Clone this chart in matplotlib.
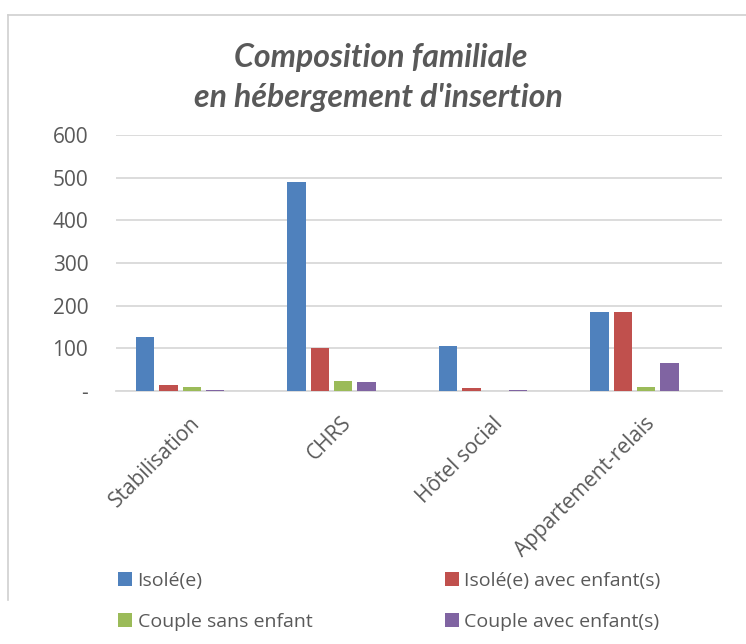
import matplotlib
matplotlib.use("Agg")
import matplotlib.pyplot as plt
import matplotlib.transforms as mtransforms
import numpy as np
from matplotlib.patches import Patch
from matplotlib.lines import Line2D

categories = ["Stabilisation", "CHRS", "Hôtel social", "Appartement-relais"]
series_names = ["Isolé(e)", "Isolé(e) avec enfant(s)", "Couple sans enfant", "Couple avec enfant(s)"]
isole = [127, 491, 105, 185]
isole_enfants = [14, 101, 7, 185]
couple_sans = [10, 23, 0, 10]
couple_avec = [2, 22, 2, 66]
yticks = [0, 100, 200, 300, 400, 500, 600]
ytick_labels = ["-", "100", "200", "300", "400", "500", "600"]
colors = ["#4f81bd", "#c0504d", "#9bbb59", "#8064a2"]

plt.rcParams['font.family'] = ['Open Sans', 'DejaVu Sans']
txt = "#595959"

fig = plt.figure(figsize=(7.46, 6.44), dpi=100)
ax = fig.add_axes([116/746, 253/644, 606/746, 256/644])

x = np.arange(len(categories))
w = 0.12
step = 0.154
all_series = [isole, isole_enfants, couple_sans, couple_avec]
for i, (vals, c) in enumerate(zip(all_series, colors)):
    ax.bar(x + (i - 2) * step, vals, width=w, color=c, zorder=3)

ax.set_xlim(-0.5, len(categories) - 0.5)
ax.set_ylim(0, 600)
ax.set_yticks(yticks)
ax.set_yticklabels(ytick_labels, fontsize=15, color=txt)
ax.set_xticks(x)
ax.set_xticklabels(categories, rotation=45, ha="right", va="center", rotation_mode="anchor",
                   fontsize=15, color=txt)
ax.tick_params(axis="y", length=0, pad=20)
ax.tick_params(axis="x", length=0, pad=21)
offset = mtransforms.ScaledTranslation(5/100, 0, fig.dpi_scale_trans)
for lab in ax.get_xticklabels():
    lab.set_transform(lab.get_transform() + offset)
ax.grid(axis="y", color="#d9d9d9", linewidth=1.3, zorder=0)
for s in ["top", "right", "left"]:
    ax.spines[s].set_visible(False)
ax.spines["bottom"].set_color("#d9d9d9")
ax.spines["bottom"].set_linewidth(1.3)

title_font = ['Lato', 'DejaVu Sans']
fig.text(381/746, 1 - 58/644, "Composition familiale", ha="center", va="center",
         fontsize=23, fontweight="bold", fontstyle="italic", color=txt, family=title_font)
fig.text(378/746, 1 - 97/644, "en hébergement d'insertion", ha="center", va="center",
         fontsize=23, fontweight="bold", fontstyle="italic", color=txt, family=title_font)

handles = [Patch(facecolor=c, edgecolor="none") for c in colors]
order = [0, 2, 1, 3]
fig.legend([handles[i] for i in order], [series_names[i] for i in order],
           loc="upper left", bbox_to_anchor=(108/746, 1 - 562/644),
           ncol=2, frameon=False, fontsize=14, labelcolor=txt, borderpad=0,
           handlelength=0.72, handleheight=0.72, handletextpad=0.3,
           columnspacing=6.8, labelspacing=1.2)

# chart frame lines
fig.add_artist(Line2D([8/746, 1], [1 - 15/644, 1 - 15/644], color="#d0d0d0", lw=1.2))
fig.add_artist(Line2D([8/746, 8/746], [1 - 15/644, 1 - 600/644], color="#d0d0d0", lw=1.2))

fig.savefig("out.png", dpi=100)
